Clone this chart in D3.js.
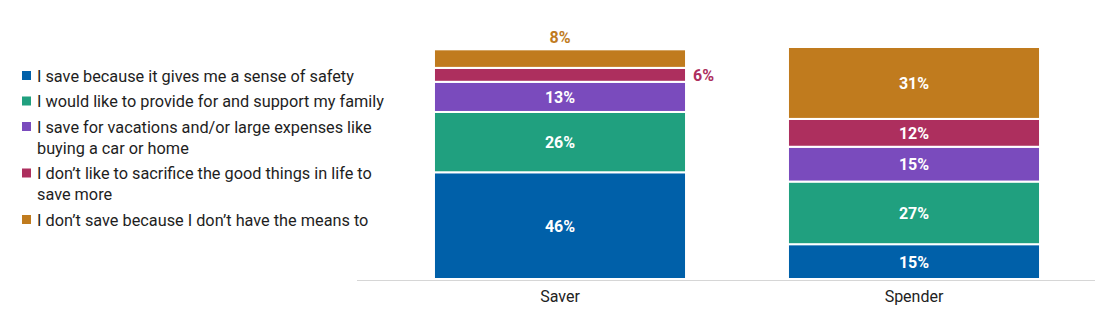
<!DOCTYPE html>
<html>
<head>
<meta charset="utf-8">
<script src="https://cdn.jsdelivr.net/npm/d3@7"></script>
<style>
  body { margin: 0; background: #fff; }
  text { font-family: Roboto, "Noto Sans", sans-serif; }
</style>
</head>
<body>
<div id="chart"></div>
<script>
// data ---------------------------------------------------------------
const categories = ['Saver', 'Spender'];
const seriesNames = [
  'I save because it gives me a sense of safety',
  'I would like to provide for and support my family',
  'I save for vacations and/or large expenses like buying a car or home',
  'I don\u2019t like to sacrifice the good things in life to save more',
  'I don\u2019t save because I don\u2019t have the means to'
];
const legendLines = [
  ['I save because it gives me a sense of safety'],
  ['I would like to provide for and support my family'],
  ['I save for vacations and/or large expenses like', 'buying a car or home'],
  ['I don\u2019t like to sacrifice the good things in life to', 'save more'],
  ['I don\u2019t save because I don\u2019t have the means to']
];
const saverValues = [46, 26, 13, 6, 8];
const spenderValues = [15, 27, 15, 12, 31];
const colors = ['#0060a9', '#20a07f', '#7a4bbd', '#ad2f5e', '#c07b1e'];

// svg ---------------------------------------------------------------
const width = 1100, height = 332;
const svg = d3.select('#chart').append('svg')
  .attr('width', width)
  .attr('height', height);

const rows = categories.map((c, i) => {
  const vals = i === 0 ? saverValues : spenderValues;
  const r = { cat: c };
  seriesNames.forEach((s, j) => r[s] = vals[j]);
  return r;
});
const stacked = d3.stack().keys(seriesNames)(rows);

const xScale = d3.scaleBand()
  .domain(categories)
  .range([383, 1091])
  .paddingInner(0.288)
  .paddingOuter(0.144);
const yScale = d3.scaleLinear()
  .domain([0, 100])
  .range([279, 47]);

// bars ---------------------------------------------------------------
const layer = svg.selectAll('.layer')
  .data(stacked)
  .enter()
  .append('g')
  .attr('fill', (d, i) => colors[i]);

layer.selectAll('rect')
  .data(d => d)
  .enter()
  .append('rect')
  .attr('x', d => xScale(d.data.cat))
  .attr('width', xScale.bandwidth())
  .attr('y', d => yScale(d[1]))
  .attr('height', d => yScale(d[0]) - yScale(d[1]))
  .attr('stroke', '#fff')
  .attr('stroke-width', 2);

// labels --------------------------------------------------------------
stacked.forEach((s, i) => {
  s.forEach(d => {
    const v = d[1] - d[0];
    const cx = xScale(d.data.cat) + xScale.bandwidth() / 2;
    const cy = (yScale(d[0]) + yScale(d[1])) / 2;
    let x = cx, y = cy + 6, fill = '#fff', anchor = 'middle';
    if (v < 10 && d.data.cat === 'Saver') {
      fill = colors[i];
      if (i === 4) { y = yScale(d[1]) - 6; }
      else { x = xScale(d.data.cat) + xScale.bandwidth() + 7; anchor = 'start'; }
    }
    svg.append('text')
      .attr('x', x)
      .attr('y', y)
      .attr('text-anchor', anchor)
      .attr('fill', fill)
      .attr('font-size', '16px')
      .attr('font-weight', 'bold')
      .text(v + '%');
  });
});

// x axis ---------------------------------------------------------------
svg.append('line')
  .attr('x1', 357).attr('x2', 1095)
  .attr('y1', 280.5).attr('y2', 280.5)
  .attr('stroke', '#d6d6d6')
  .attr('stroke-width', 1);
svg.selectAll('.xlab')
  .data(categories)
  .enter()
  .append('text')
  .attr('x', d => xScale(d) + xScale.bandwidth() / 2)
  .attr('y', 302)
  .attr('text-anchor', 'middle')
  .attr('font-size', '16px')
  .attr('fill', '#222')
  .text(d => d);

// legend -------------------------------------------------------------
let ly = 76;
legendLines.forEach((lines, i) => {
  svg.append('rect')
    .attr('x', 22).attr('y', ly - 5)
    .attr('width', 9).attr('height', 9)
    .attr('fill', colors[i]);
  lines.forEach((t, k) => {
    svg.append('text')
      .attr('x', 37)
      .attr('y', ly + 5.5 + k * 21)
      .attr('font-size', '16.3px')
      .attr('fill', '#1e1e1e')
      .text(t);
  });
  ly += 25.5 + (lines.length - 1) * 21;
});
</script>
</body>
</html>
